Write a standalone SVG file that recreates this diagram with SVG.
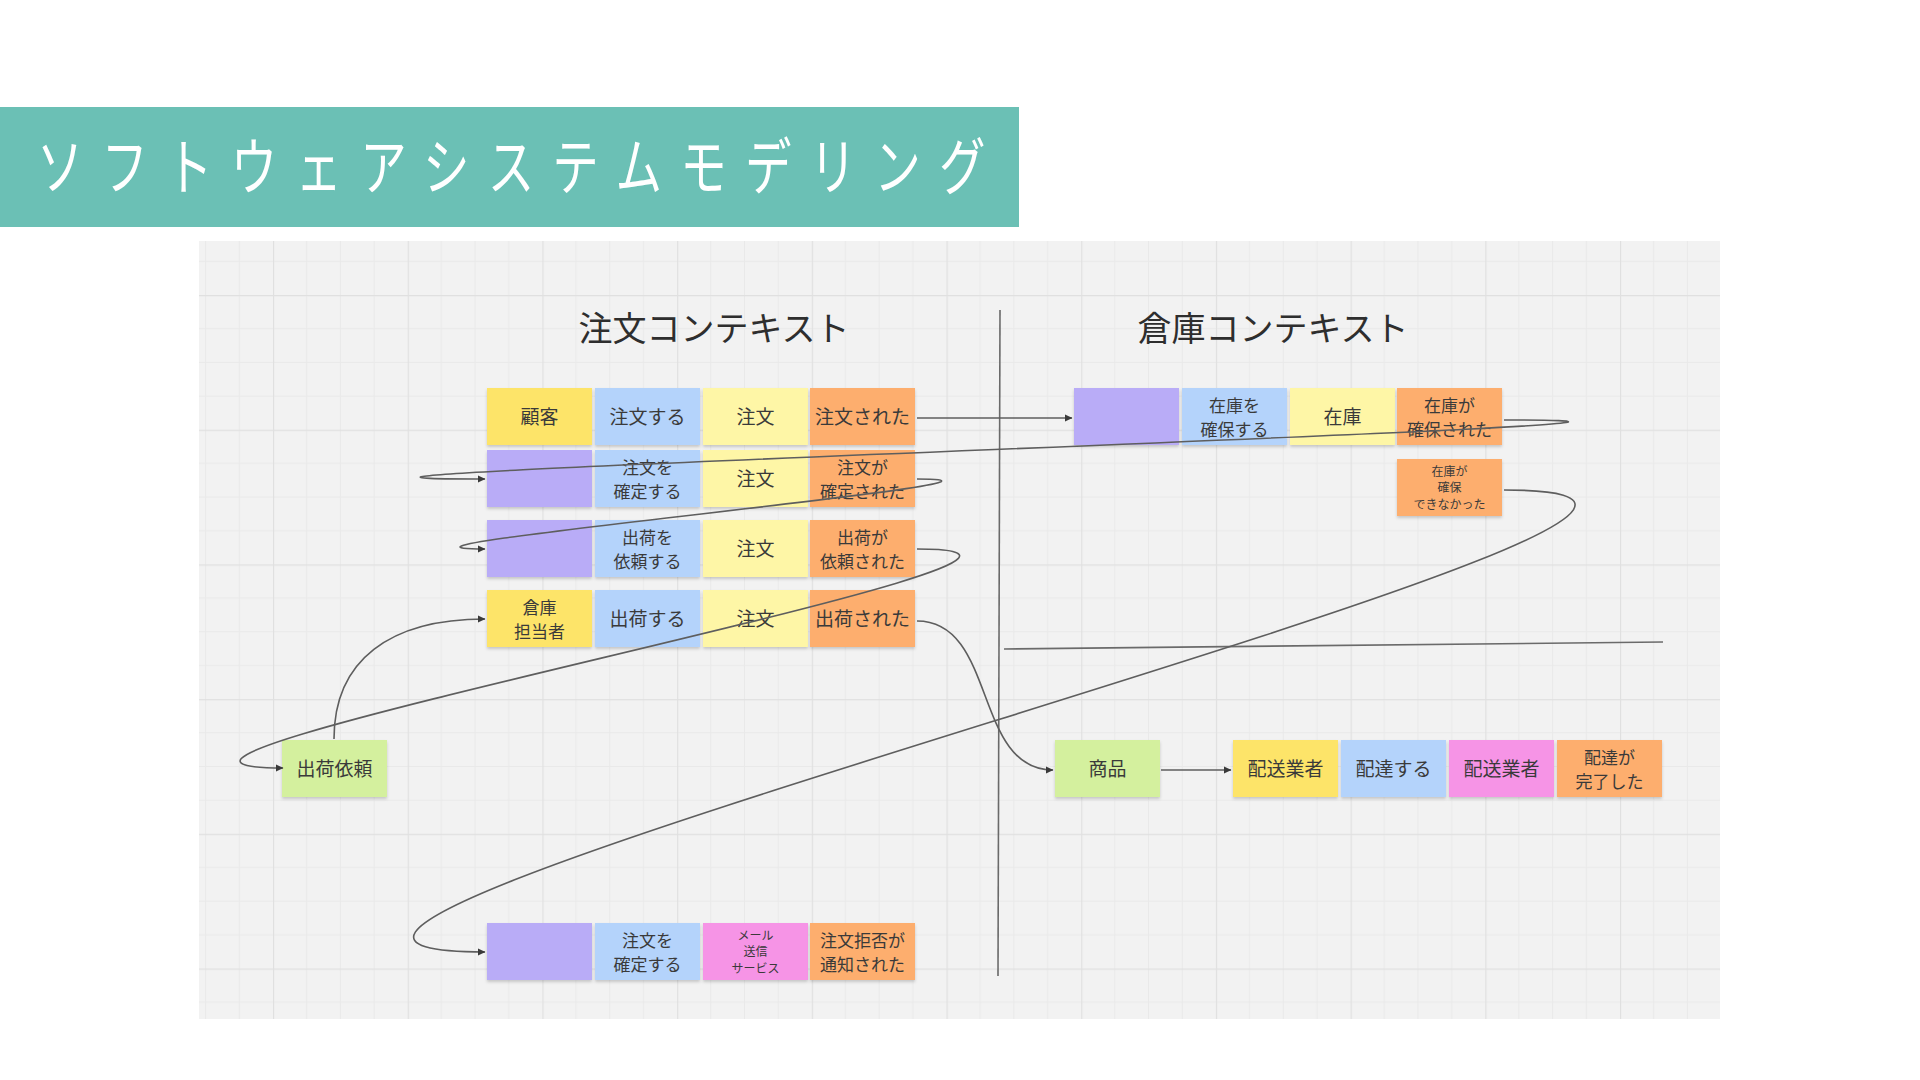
<svg xmlns="http://www.w3.org/2000/svg" width="1920" height="1080" viewBox="0 0 1920 1080">
<defs>
<style>
.t{font-family:"Noto Sans CJK JP","Noto Sans",sans-serif;fill:#3a3a3a;text-anchor:middle;dominant-baseline:central}
.s19{font-size:19px}.s17{font-size:17px}.s12{font-size:12px}
.ctx{font-family:"Noto Sans CJK JP","Noto Sans",sans-serif;font-size:34px;fill:#2e2e2e;text-anchor:middle}
.note{filter:url(#sh)}
.yel{fill:#fde469}.blu{fill:#b4d3fb}.lye{fill:#fef6a6}.ora{fill:#fdae6e}.pur{fill:#b9acf7}.grn{fill:#d4f09e}.pnk{fill:#f694e6}
.c{fill:none;stroke:#5e5e5e;stroke-width:1.6}
.sep{fill:none;stroke:#6a6a6a;stroke-width:1.6}
</style>
<filter id="sh" x="-10%" y="-10%" width="120%" height="130%">
<feDropShadow dx="0" dy="2" stdDeviation="1.5" flood-color="#000" flood-opacity="0.18"/>
</filter>
<marker id="ah" markerUnits="userSpaceOnUse" markerWidth="8" markerHeight="8" refX="7" refY="4" orient="auto">
<path d="M0,0.5 L7.5,4 L0,7.5 z" fill="#3a3a3a"/>
</marker>
<pattern id="grid" x="273" y="295" width="134.7" height="134.7" patternUnits="userSpaceOnUse">
<path d="M33.675 0V134.7M67.35 0V134.7M101.025 0V134.7M0 33.675H134.7M0 67.35H134.7M0 101.025H134.7" stroke="#e9e9e9" stroke-width="1"/>
<path d="M0.6 0V134.7M0 0.6H134.7" stroke="#e0e0e0" stroke-width="1.2"/>
</pattern>
</defs>
<rect width="1920" height="1080" fill="#ffffff"/>
<g id="banner">
<rect x="0" y="107" width="1019" height="120" fill="#6bc0b5"/>
<text x="49" y="190" transform="scale(0.75,1)" textLength="1265" lengthAdjust="spacing" font-family="Noto Sans CJK JP, Noto Sans, sans-serif" font-size="62" font-weight="400" fill="#ffffff">ソフトウェアシステムモデリング</text>
</g>
<g id="board">
<rect x="199" y="241" width="1521" height="778" fill="#f2f2f2"/>
<rect x="199" y="241" width="1521" height="778" fill="url(#grid)"/>
</g>
<g id="separators">
<path class="sep" d="M1000 310 L998 976"/>
<path class="sep" d="M1004 649 L1663 642"/>
</g>
<text id="ctx-order" class="ctx" x="714" y="341">注文コンテキスト</text>
<text id="ctx-warehouse" class="ctx" x="1273" y="341">倉庫コンテキスト</text>
<g id="n-kokyaku"><rect class="note yel" x="487" y="388" width="105" height="57"/><text class="t s19" x="539.5" y="415">顧客</text></g>
<g id="n-chumon-suru"><rect class="note blu" x="595" y="388" width="105" height="57"/><text class="t s19" x="647.5" y="415">注文する</text></g>
<g id="n-chumon-1"><rect class="note lye" x="703" y="388" width="105" height="57"/><text class="t s19" x="755.5" y="415">注文</text></g>
<g id="n-chumon-sareta"><rect class="note ora" x="810" y="388" width="105" height="57"/><text class="t s19" x="862.5" y="415">注文された</text></g>
<g id="n-policy-2"><rect class="note pur" x="487" y="450" width="105" height="57"/></g>
<g id="n-kakutei-suru"><rect class="note blu" x="595" y="450" width="105" height="57"/><text class="t s17" x="647.5" y="466">注文を</text><text class="t s17" x="647.5" y="490">確定する</text></g>
<g id="n-chumon-2"><rect class="note lye" x="703" y="450" width="105" height="57"/><text class="t s19" x="755.5" y="477">注文</text></g>
<g id="n-kakutei-sareta"><rect class="note ora" x="810" y="450" width="105" height="57"/><text class="t s17" x="862.5" y="466">注文が</text><text class="t s17" x="862.5" y="490">確定された</text></g>
<g id="n-policy-3"><rect class="note pur" x="487" y="520" width="105" height="57"/></g>
<g id="n-irai-suru"><rect class="note blu" x="595" y="520" width="105" height="57"/><text class="t s17" x="647.5" y="536">出荷を</text><text class="t s17" x="647.5" y="560">依頼する</text></g>
<g id="n-chumon-3"><rect class="note lye" x="703" y="520" width="105" height="57"/><text class="t s19" x="755.5" y="547">注文</text></g>
<g id="n-irai-sareta"><rect class="note ora" x="810" y="520" width="105" height="57"/><text class="t s17" x="862.5" y="536">出荷が</text><text class="t s17" x="862.5" y="560">依頼された</text></g>
<g id="n-tantousha"><rect class="note yel" x="487" y="590" width="105" height="57"/><text class="t s17" x="539.5" y="606">倉庫</text><text class="t s17" x="539.5" y="630">担当者</text></g>
<g id="n-shukka-suru"><rect class="note blu" x="595" y="590" width="105" height="57"/><text class="t s19" x="647.5" y="617">出荷する</text></g>
<g id="n-chumon-4"><rect class="note lye" x="703" y="590" width="105" height="57"/><text class="t s19" x="755.5" y="617">注文</text></g>
<g id="n-shukka-sareta"><rect class="note ora" x="810" y="590" width="105" height="57"/><text class="t s19" x="862.5" y="617">出荷された</text></g>
<g id="n-shukka-irai"><rect class="note grn" x="282" y="740" width="105" height="57"/><text class="t s19" x="334.5" y="767">出荷依頼</text></g>
<g id="n-policy-5"><rect class="note pur" x="487" y="923" width="105" height="57"/></g>
<g id="n-kakutei-suru-2"><rect class="note blu" x="595" y="923" width="105" height="57"/><text class="t s17" x="647.5" y="939">注文を</text><text class="t s17" x="647.5" y="963">確定する</text></g>
<g id="n-mail"><rect class="note pnk" x="703" y="923" width="105" height="57"/><text class="t s12" x="755.5" y="934">メール</text><text class="t s12" x="755.5" y="950.5">送信</text><text class="t s12" x="755.5" y="967">サービス</text></g>
<g id="n-kyohi"><rect class="note ora" x="810" y="923" width="105" height="57"/><text class="t s17" x="862.5" y="939">注文拒否が</text><text class="t s17" x="862.5" y="963">通知された</text></g>
<g id="n-policy-w"><rect class="note pur" x="1074" y="388" width="105" height="57"/></g>
<g id="n-kakuho-suru"><rect class="note blu" x="1182" y="388" width="105" height="57"/><text class="t s17" x="1234.5" y="404">在庫を</text><text class="t s17" x="1234.5" y="428">確保する</text></g>
<g id="n-zaiko"><rect class="note lye" x="1290" y="388" width="105" height="57"/><text class="t s19" x="1342.5" y="415">在庫</text></g>
<g id="n-kakuho-sareta"><rect class="note ora" x="1397" y="388" width="105" height="57"/><text class="t s17" x="1449.5" y="404">在庫が</text><text class="t s17" x="1449.5" y="428">確保された</text></g>
<g id="n-kakuho-fail"><rect class="note ora" x="1397" y="459" width="105" height="57"/><text class="t s12" x="1449.5" y="470">在庫が</text><text class="t s12" x="1449.5" y="486.5">確保</text><text class="t s12" x="1449.5" y="503">できなかった</text></g>
<g id="n-shohin"><rect class="note grn" x="1055" y="740" width="105" height="57"/><text class="t s19" x="1107.5" y="767">商品</text></g>
<g id="n-haiso-gyosha-1"><rect class="note yel" x="1233" y="740" width="105" height="57"/><text class="t s19" x="1285.5" y="767">配送業者</text></g>
<g id="n-haitatsu-suru"><rect class="note blu" x="1341" y="740" width="105" height="57"/><text class="t s19" x="1393.5" y="767">配達する</text></g>
<g id="n-haiso-gyosha-2"><rect class="note pnk" x="1449" y="740" width="105" height="57"/><text class="t s19" x="1501.5" y="767">配送業者</text></g>
<g id="n-kanryo"><rect class="note ora" x="1557" y="740" width="105" height="57"/><text class="t s17" x="1609.5" y="756">配達が</text><text class="t s17" x="1609.5" y="780">完了した</text></g>
<g id="connectors">
<path class="c" marker-end="url(#ah)" d="M917 418 L1072 418"/>
<path class="c" marker-end="url(#ah)" d="M1504 420 C1934 420 54 479 485 479"/>
<path class="c" marker-end="url(#ah)" d="M917 479 C1087 479 314 549 485 549"/>
<path class="c" marker-end="url(#ah)" d="M917 549 C1196 549 3 768 283 768"/>
<path class="c" marker-end="url(#ah)" d="M334 739 C334 660 390 619 485 619"/>
<path class="c" marker-end="url(#ah)" d="M917 621 C997 621 973 770 1053 770"/>
<path class="c" marker-end="url(#ah)" d="M1161 770 L1231 770"/>
<path class="c" marker-end="url(#ah)" d="M1504 490 C1964 490 24 952 485 952"/>
</g>
</svg>
